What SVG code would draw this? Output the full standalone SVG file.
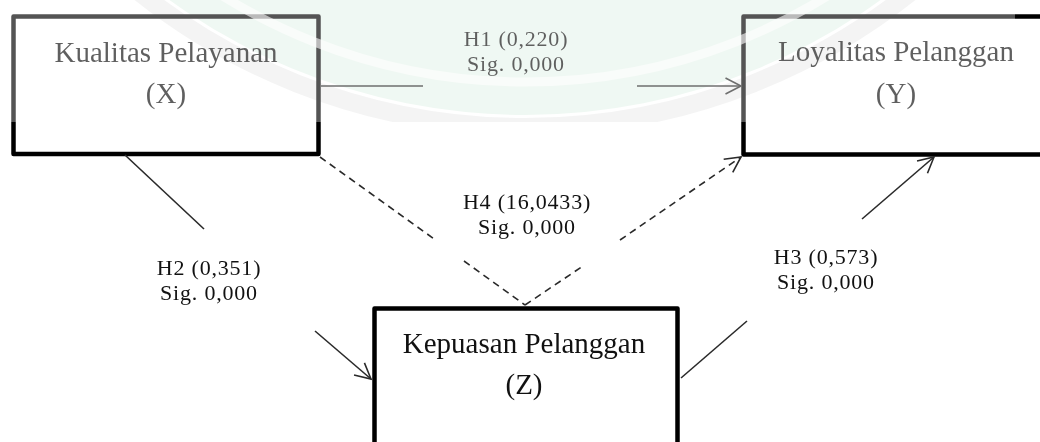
<svg xmlns="http://www.w3.org/2000/svg" width="1040" height="442" viewBox="0 0 1040 442">
  <style>
    .box { fill: #ffffff; stroke: #000000; stroke-width: 4.5; stroke-linejoin: round; }
    .node-text { font-family: "Liberation Serif", "Times New Roman", serif; font-size: 29px; fill: #111111; text-anchor: middle; }
    .label { font-family: "Liberation Serif", "Times New Roman", serif; font-size: 22px; letter-spacing: 0.8px; fill: #111111; text-anchor: middle; }
    .link { fill: none; stroke: #2a2a2a; stroke-width: 1.6; }
    .dashed { stroke-dasharray: 7 5; }
    .tint { mix-blend-mode: multiply; }
  </style>
  <defs>
    <marker id="arrow-open" viewBox="0 0 18 18" refX="16.5" refY="9" markerWidth="18" markerHeight="18" markerUnits="userSpaceOnUse" orient="auto">
      <path d="M1,1 L16.5,9 L1,17" fill="none" stroke="#2a2a2a" stroke-width="1.6"/>
    </marker>
    <clipPath id="wm-clip">
      <rect x="0" y="0" width="1015" height="122"/>
    </clipPath>
  </defs>

  <rect x="0" y="0" width="1040" height="442" fill="#ffffff"/>

  <!-- Nodes -->
  <g id="node-x">
    <rect class="box" x="13.5" y="16.5" width="305" height="137.5"/>
    <text class="node-text" x="166" y="62">Kualitas Pelayanan</text>
    <text class="node-text" x="166" y="103">(X)</text>
  </g>
  <g id="node-y">
    <rect class="box" x="743.5" y="16.5" width="305" height="138"/>
    <text class="node-text" x="896" y="61">Loyalitas Pelanggan</text>
    <text class="node-text" x="896" y="103">(Y)</text>
  </g>
  <g id="node-z">
    <rect class="box" x="374.5" y="308.5" width="303" height="160"/>
    <text class="node-text" x="524" y="353">Kepuasan Pelanggan</text>
    <text class="node-text" x="524" y="394">(Z)</text>
  </g>

  <!-- Connectors -->
  <g id="connectors">
    <!-- H1: X -> Y -->
    <line class="link" x1="321" y1="86" x2="423" y2="86"/>
    <line class="link" x1="637" y1="86" x2="741" y2="86" marker-end="url(#arrow-open)"/>
    <!-- H2: X -> Z -->
    <line class="link" x1="125" y1="155" x2="204" y2="229"/>
    <line class="link" x1="315" y1="331" x2="371" y2="379" marker-end="url(#arrow-open)"/>
    <!-- H3: Z -> Y -->
    <line class="link" x1="681" y1="378" x2="747" y2="321"/>
    <line class="link" x1="862" y1="219" x2="934" y2="157" marker-end="url(#arrow-open)"/>
    <!-- H4: X -> Z -> Y (mediated path) -->
    <line class="link dashed" x1="320" y1="157" x2="437" y2="241"/>
    <line class="link dashed" x1="464" y1="261" x2="525" y2="305"/>
    <line class="link dashed" x1="525" y1="305" x2="583" y2="266"/>
    <line class="link dashed" x1="620" y1="240" x2="741" y2="157" marker-end="url(#arrow-open)"/>
  </g>

  <!-- Path labels -->
  <g id="labels">
    <text class="label" x="516" y="46">H1 (0,220)</text>
    <text class="label" x="516" y="71">Sig. 0,000</text>
    <text class="label" x="209" y="275">H2 (0,351)</text>
    <text class="label" x="209" y="300">Sig. 0,000</text>
    <text class="label" x="826" y="264">H3 (0,573)</text>
    <text class="label" x="826" y="289">Sig. 0,000</text>
    <text class="label" x="527" y="209">H4 (16,0433)</text>
    <text class="label" x="527" y="234">Sig. 0,000</text>
  </g>

  <!-- Faint background emblem over the upper band -->
  <g id="watermark">
    <circle class="tint" clip-path="url(#wm-clip)" cx="525" cy="-492" r="607" fill="#e8f5ed"/>
    <circle clip-path="url(#wm-clip)" cx="525" cy="-492" r="574" fill="none" stroke="#ffffff" stroke-width="9" opacity="0.6"/>
    <circle class="tint" clip-path="url(#wm-clip)" cx="525" cy="-492" r="619" fill="none" stroke="#efefef" stroke-width="18"/>
    <rect x="0" y="0" width="1015" height="122" fill="#ffffff" opacity="0.33"/>
  </g>
</svg>
